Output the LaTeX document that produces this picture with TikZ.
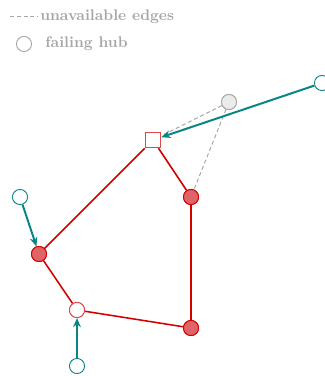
\documentclass[tikz,border=0pt]{standalone}
\usetikzlibrary{arrows.meta}
\definecolor{teal0}{HTML}{0A8585}
\definecolor{redline}{HTML}{D40000}
\definecolor{redfill}{HTML}{E06368}
\definecolor{redopen}{HTML}{E04848}
\definecolor{hubgray}{HTML}{A8A8A8}
\definecolor{hubfill}{HTML}{EBEBEB}
\definecolor{legendgray}{HTML}{A6A6A6}
\begin{document}
\begin{tikzpicture}[x=0.65pt,y=-0.65pt,
  hot/.style={circle,draw=redline,fill=redfill,line width=0.6pt,minimum size=9.8pt,inner sep=0pt},
  openred/.style={circle,draw=redopen,fill=white,line width=0.6pt,minimum size=9.8pt,inner sep=0pt},
  sq/.style={rectangle,draw=redopen,fill=white,line width=0.6pt,minimum size=10.2pt,inner sep=0pt},
  src/.style={circle,draw=teal0,fill=white,line width=0.6pt,minimum size=9.8pt,inner sep=0pt},
  hub/.style={circle,draw=hubgray,fill=hubfill,line width=0.6pt,minimum size=9.8pt,inner sep=0pt},
  ring/.style={red line},
  rededge/.style={draw=redline,line width=1pt},
  feed/.style={draw=teal0,line width=1.3pt,-{Stealth[length=6pt,width=5pt]}},
  gone/.style={draw=legendgray,line width=0.65pt,dash pattern=on 2.6pt off 1.8pt},
  legtext/.style={text=legendgray,font=\bfseries,inner sep=0pt,anchor=base west}]
\useasboundingbox (0,0) rectangle (324,376);
% legend
\coordinate (l1) at (10,17);
\coordinate (l2) at (38,17);
\draw[gone] (l1) -- (l2);
\node[legtext] (t1) at (40,21) {unavailable edges};
\node[circle,draw=legendgray,fill=white,line width=0.6pt,minimum size=9.8pt,inner sep=0pt] (lc) at (24,44) {};
\node[legtext] (t2) at (45,48) {failing hub};
% nodes
\node[src] (s1) at (322,83) {};
\node[hub] (h) at (229,102) {};
\node[sq] (q) at (153,140) {};
\node[hot] (a) at (191,197) {};
\node[src] (s2) at (20,197) {};
\node[hot] (b) at (39,254) {};
\node[openred] (c) at (77,310) {};
\node[hot] (d) at (191,328) {};
\node[src] (s3) at (77,366) {};
% unavailable edges
\draw[gone] (h) -- (q);
\draw[gone] (h) -- (a);
% red ring
\draw[rededge] (q) -- (a);
\draw[rededge] (a) -- (d);
\draw[rededge] (d) -- (c);
\draw[rededge] (c) -- (b);
\draw[rededge] (b) -- (q);
% feeds
\draw[feed] (s1) -- (q);
\draw[feed] (s2) -- (b);
\draw[feed] (s3) -- (c);
% redraw nodes on top
\node[hub] at (h) {};
\node[sq] at (q) {};
\node[hot] at (a) {};
\node[hot] at (b) {};
\node[openred] at (c) {};
\node[hot] at (d) {};
\end{tikzpicture}
\end{document}
